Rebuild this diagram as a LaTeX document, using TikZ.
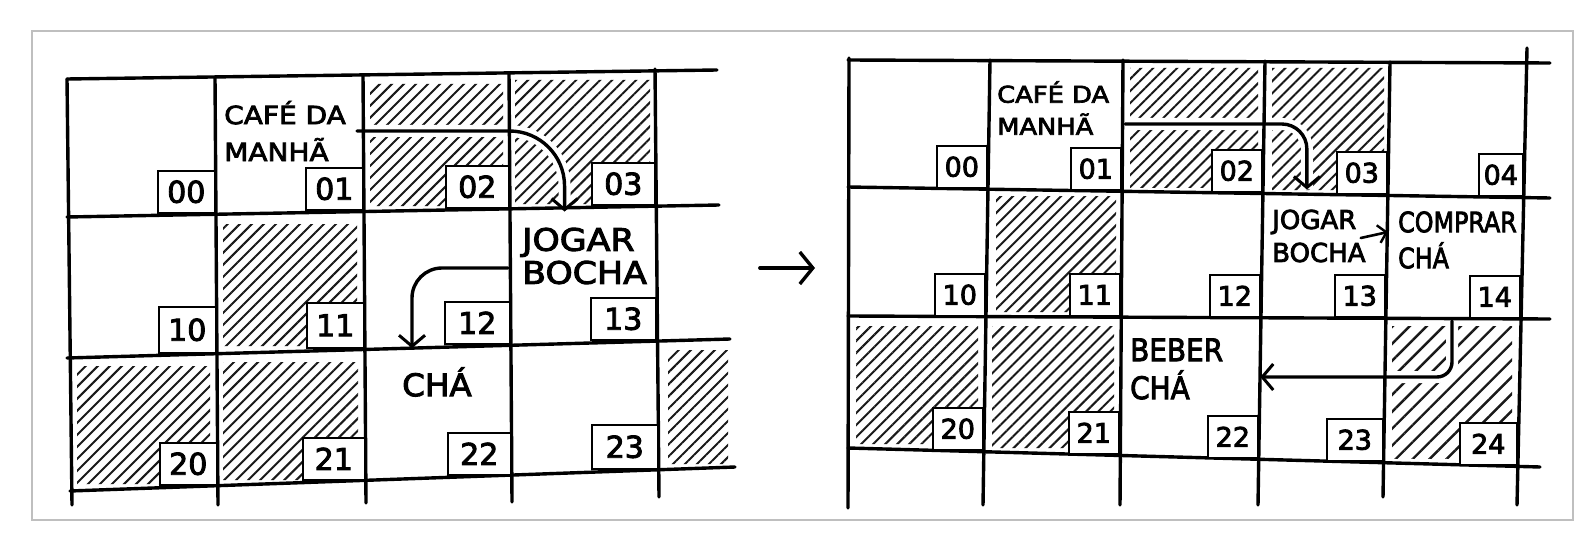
\documentclass[tikz,border=0pt]{standalone}
\usepackage{fontspec}
\setmainfont{DejaVu Sans}[FakeBold=3]
\usetikzlibrary{arrows.meta,patterns.meta}
\tikzset{
  grid/.style={line width=3.4pt, line cap=round},
  frame/.style={draw=black!25, line width=2pt},
  hatch/.style={pattern={Lines[angle=45,distance=8.5pt,line width=2pt]}, pattern color=black!90},
  hatchwide/.style={pattern={Lines[angle=45,distance=12pt,line width=2.4pt]}, pattern color=black!90},
  numL/.style={draw, fill=white, line width=2.4pt, anchor=south east, inner sep=0pt,
    minimum width=57pt, minimum height=42pt, font=\fontsize{30}{30}\selectfont},
  numR/.style={draw, fill=white, line width=2.4pt, anchor=south east, inner sep=0pt,
    minimum width=50pt, minimum height=42pt, font=\fontsize{27}{27}\selectfont},
  word/.style={align=left, anchor=west, inner sep=0pt},
  flow/.style={line width=3.4pt, line cap=round, rounded corners=#1,
    -{Straight Barb[length=11pt,width=26pt,line width=3pt]}},
  flow/.default=0pt,
  gap/.style={draw=white, line width=12pt, rounded corners=#1},
  gap/.default=0pt
}
\begin{document}
\begin{tikzpicture}[x=1pt,y=-1pt]
\useasboundingbox (0,0) rectangle (1594,548);
\draw[frame] (32,31) rectangle (1573,520);
% texts
\node[word, xscale=1.12, font=\fontsize{25}{37}\selectfont] (cafeL) at (224,131) {CAFÉ DA\\MANHÃ};
\node[word, xscale=1.12, font=\fontsize{31}{33}\selectfont] (jogarL) at (522,256) {JOGAR\\BOCHA};
\node[xscale=1.05, inner sep=0pt, font=\fontsize{31}{33}\selectfont] (chaL) at (437,382) {CHÁ};
\node[word, xscale=1.12, font=\fontsize{23}{32}\selectfont] (cafeR) at (997,108) {CAFÉ DA\\MANHÃ};
\node[word, font=\fontsize{26}{33}\selectfont] (jogarR) at (1272,236) {JOGAR\\BOCHA};
\node[word, xscale=.85, font=\fontsize{28}{36}\selectfont] (compR) at (1398,240) {COMPRAR\\CHÁ};
\node[word, xscale=.9, font=\fontsize{31}{38}\selectfont] (bebR) at (1130,369) {BEBER\\CHÁ};
\coordinate (c24) at (1452,321);
\coordinate (midA) at (760,268);
\coordinate (midB) at (815,268);
% hatching
\path[hatch] (370,84) rectangle (503,206) (515,80) rectangle (650,204)
  (223,224) rectangle (357,346) (77,366) rectangle (210,484)
  (223,362) rectangle (358,480) (668,350) rectangle (728,464);
\path[hatch] (1130,68) rectangle (1258,188) (1272,68) rectangle (1384,190)
  (996,196) rectangle (1116,312) (856,326) rectangle (978,444)
  (992,326) rectangle (1114,448);
\path[hatchwide] (1392,326) rectangle (1512,458);
% white gaps under the arrows
\draw[gap=55pt] ([xshift=11pt]cafeL.east) -| ([xshift=-20pt,yshift=16pt]jogarL.north);
\draw[gap=25pt] ([xshift=16pt,yshift=-16pt]cafeR.east) -| ([xshift=-12pt,yshift=20pt]jogarR.north);
\draw[gap=15pt] (c24) |- ([xshift=37pt,yshift=-8pt]bebR.east);
% left grid
\draw[grid] (67,79) -- (717,70) (67,217) -- (719,205) (67,358) -- (730,339) (70,491) -- (735,467);
\draw[grid] (67,79) -- (72,505) (215,77) -- (218,505) (363,75) -- (366,503)
  (509,73) -- (512,502) (655,69) -- (659,497);
% right grid
\draw[grid] (848,60) -- (1550,63) (848,187) -- (1550,198) (848,316) -- (1550,319) (848,448) -- (1540,467);
\draw[grid] (849,58) -- (848,508) (990,60) -- (983,505) (1123,60) -- (1120,505)
  (1265,61) -- (1258,505) (1390,62) -- (1383,497) (1527,48) -- (1517,505);
% left numbers
\node[numL] (l00) at (216,214) {00};
\node[numL] (l01) at (364,211) {01};
\node[numL, minimum width=63pt] (l02) at (510,209) {02};
\node[numL, minimum width=63pt] (l03) at (656,206) {03};
\node[numL, minimum height=46pt] (l10) at (217,354) {10};
\node[numL, minimum height=45pt] (l11) at (365,349) {11};
\node[numL, minimum width=65pt] (l12) at (511,345) {12};
\node[numL, minimum width=65pt] (l13) at (657,341) {13};
\node[numL] (l20) at (218,486) {20};
\node[numL, minimum width=62pt] (l21) at (366,481) {21};
\node[numL, minimum width=63pt] (l22) at (512,476) {22};
\node[numL, minimum width=66pt, minimum height=44pt] (l23) at (659,470) {23};
% right numbers
\node[numR] (r00) at (988,189) {00};
\node[numR] (r01) at (1122,191) {01};
\node[numR] (r02) at (1263,193) {02};
\node[numR] (r03) at (1388,195) {03};
\node[numR, minimum width=44pt] (r04) at (1524,197) {04};
\node[numR] (r10) at (986,317) {10};
\node[numR] (r11) at (1121,317) {11};
\node[numR] (r12) at (1261,318) {12};
\node[numR] (r13) at (1386,318) {13};
\node[numR] (r14) at (1521,319) {14};
\node[numR] (r20) at (984,451) {20};
\node[numR] (r21) at (1120,455) {21};
\node[numR] (r22) at (1259,459) {22};
\node[numR, minimum width=56pt] (r23) at (1384,462) {23};
\node[numR, minimum width=57pt] (r24) at (1518,466) {24};
% arrows
\draw[flow=55pt] ([xshift=11pt]cafeL.east) -| ([xshift=-20pt,yshift=16pt]jogarL.north);
\draw[flow=30pt] ([xshift=-14pt,yshift=-12pt]jogarL.west) -| ([xshift=-25pt,yshift=19pt]chaL.north);
\draw[flow, line width=3.8pt, -{Straight Barb[length=13pt,width=32pt,line width=3.4pt]}] (midA) -- (midB);
\draw[flow=25pt] ([xshift=16pt,yshift=-16pt]cafeR.east) -| ([xshift=-12pt,yshift=20pt]jogarR.north);
\draw[flow, line width=2.6pt, -{Straight Barb[length=8pt,width=18pt,line width=2.4pt]}]
  ([xshift=-5pt,yshift=-2pt]jogarR.east) -- ([xshift=-10pt,yshift=8pt]compR.west);
\draw[flow=15pt] (c24) |- ([xshift=37pt,yshift=-8pt]bebR.east);
\end{tikzpicture}
\end{document}
